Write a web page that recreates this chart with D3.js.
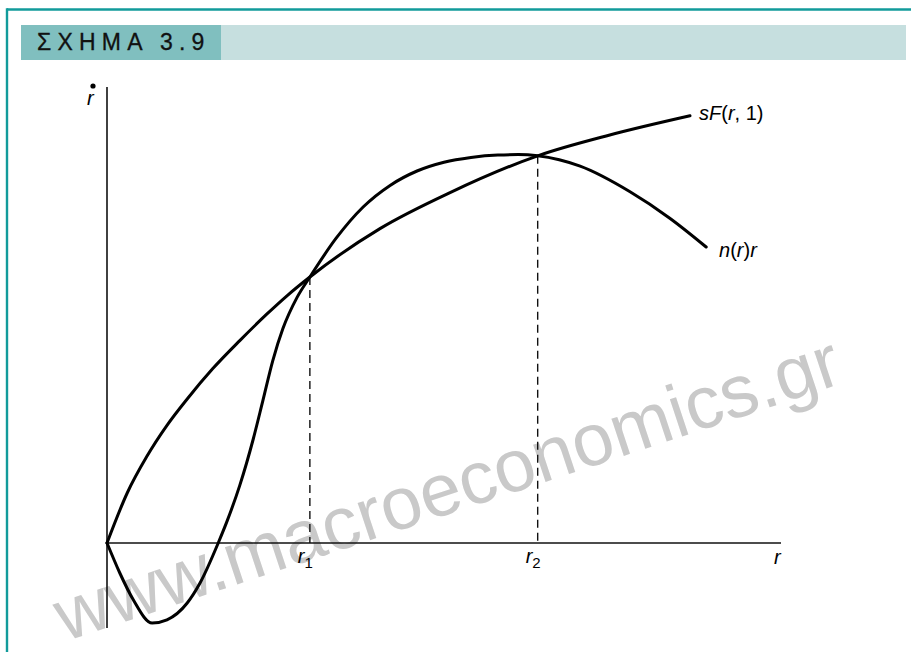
<!DOCTYPE html>
<html>
<head>
<meta charset="utf-8">
<script src="https://cdn.jsdelivr.net/npm/d3@7"></script>
<style>
  body { margin: 0; background: #fff; }
  svg { display: block; }
</style>
</head>
<body>
<div id="chart"></div>
<script>
// figure title
const figureTitle = "ΣΧΗΜΑ 3.9"
const watermark = "www.macroeconomics.gr"

// sF(r, 1) curve
const sfR = [0, 0.30, 0.59, 0.89, 1.19, 1.57, 1.97, 2.37, 2.67, 3.01, 4.05, 5.09, 6.39, 7.46, 8.65]
const sfValues = [0, 0.625, 1.08, 1.47, 1.80, 2.18, 2.53, 2.86, 3.09, 3.325, 3.93, 4.38, 4.84, 5.10, 5.34]

// n(r)r curve
const nrR = [0, 0.19, 0.39, 0.67, 0.89, 1.19, 1.38, 1.65, 1.78, 1.97, 2.17, 2.31, 2.46, 2.61, 2.82, 3.01, 3.40, 3.80, 4.20, 4.60, 5.00, 5.40, 5.80, 6.10, 6.39, 6.71, 7.02, 7.76, 8.35, 8.89]
const nrValues = [0, -0.375, -0.71, -1.0, -0.96, -0.75, -0.5, 0, 0.27, 0.72, 1.30, 1.77, 2.28, 2.68, 3.07, 3.325, 3.81, 4.20, 4.47, 4.65, 4.76, 4.82, 4.85, 4.855, 4.84, 4.79, 4.71, 4.39, 4.06, 3.70]

// the two crossings r1, r2
const steadyR = [3.01, 6.39]
const steadyValues = [3.325, 4.84]
const steadySubs = ["1", "2"]

const width = 911
const height = 652
const font = 'Liberation Sans, Arial, sans-serif'

const svg = d3.select('#chart')
    .append('svg')
    .attr('width', width)
    .attr('height', height)

const x = d3.scaleLinear().domain([0, 10]).range([107, 781])
const y = d3.scaleLinear().domain([-1.2, 5.7]).range([639, 87])

// frame
svg.append('line')
    .attr('x1', 7).attr('x2', width)
    .attr('y1', 9.5).attr('y2', 9.5)
    .attr('stroke', '#129b9b').attr('stroke-width', 2.6)
svg.append('line')
    .attr('x1', 7).attr('x2', 7)
    .attr('y1', 8.2).attr('y2', height)
    .attr('stroke', '#129b9b').attr('stroke-width', 2.4)

// header band
svg.append('rect')
    .attr('x', 221).attr('y', 25).attr('width', 685).attr('height', 35)
    .attr('fill', '#c6dfdf')
svg.append('rect')
    .attr('x', 21).attr('y', 25).attr('width', 200).attr('height', 35)
    .attr('fill', '#80bfbf')
svg.append('text')
    .attr('x', 37).attr('y', 50)
    .attr('font-family', font)
    .attr('font-size', 23)
    .attr('letter-spacing', 6.2)
    .attr('fill', '#111')
    .attr('stroke', '#111')
    .attr('stroke-width', 0.3)
    .text(figureTitle)

// watermark behind everything else
svg.append('text')
    .attr('transform', 'translate(455,512) rotate(-18.4)')
    .attr('text-anchor', 'middle')
    .attr('font-family', font)
    .attr('font-size', 74)
    .attr('fill', '#c9c9c9')
    .text(watermark)

const g = svg.append('g')

// axes
g.append('line')
    .attr('x1', x(0)).attr('x2', x(10))
    .attr('y1', y(0)).attr('y2', y(0))
    .attr('stroke', '#111').attr('stroke-width', 1.6)
g.append('line')
    .attr('x1', x(0)).attr('x2', x(0))
    .attr('y1', y(-1.0625)).attr('y2', y(5.7))
    .attr('stroke', '#111').attr('stroke-width', 1.6)

// dashed guides down from the crossings
g.selectAll('.guide')
    .data(steadyR)
    .enter()
    .append('line')
    .attr('class', 'guide')
    .attr('x1', d => x(d)).attr('x2', d => x(d))
    .attr('y1', (d, i) => y(steadyValues[i])).attr('y2', y(0))
    .attr('stroke', '#111')
    .attr('stroke-width', 1.4)
    .attr('stroke-dasharray', '8,5')

const line = d3.line()
    .x(d => x(d[0]))
    .y(d => y(d[1]))
    .curve(d3.curveMonotoneX)

g.append('path')
    .attr('d', line(d3.zip(sfR, sfValues)))
    .attr('fill', 'none')
    .attr('stroke', '#000')
    .attr('stroke-width', 3)
    .attr('stroke-linecap', 'round')

g.append('path')
    .attr('d', line(d3.zip(nrR, nrValues)))
    .attr('fill', 'none')
    .attr('stroke', '#000')
    .attr('stroke-width', 3)
    .attr('stroke-linecap', 'round')

// labels
const sfLabel = g.append('text')
    .attr('x', 699).attr('y', 120)
    .attr('font-family', font).attr('font-size', 20)
sfLabel.append('tspan').attr('font-style', 'italic').text('sF')
sfLabel.append('tspan').text('(')
sfLabel.append('tspan').attr('font-style', 'italic').text('r')
sfLabel.append('tspan').text(', 1)')

const nLabel = g.append('text')
    .attr('x', 719).attr('y', 257)
    .attr('font-family', font).attr('font-size', 20)
nLabel.append('tspan').attr('font-style', 'italic').text('n')
nLabel.append('tspan').text('(')
nLabel.append('tspan').attr('font-style', 'italic').text('r')
nLabel.append('tspan').text(')')
nLabel.append('tspan').attr('font-style', 'italic').text('r')

// steady-state labels r1, r2
g.selectAll('.sslabel')
    .data(steadyR)
    .enter()
    .append('text')
    .attr('class', 'sslabel')
    .attr('x', d => x(d) - 12)
    .attr('y', 563)
    .attr('font-family', font).attr('font-size', 20)
    .each(function (d, i) {
        const t = d3.select(this)
        t.append('tspan').attr('font-style', 'italic').text('r')
        t.append('tspan').attr('dy', 5).attr('font-size', 15).text(steadySubs[i])
    })

// axis labels
g.append('text')
    .attr('x', 774).attr('y', 564)
    .attr('font-family', font).attr('font-size', 20)
    .attr('font-style', 'italic')
    .text('r')

g.append('text')
    .attr('x', 87).attr('y', 105)
    .attr('font-family', font).attr('font-size', 20)
    .attr('font-style', 'italic')
    .text('r')
g.append('circle')
    .attr('cx', 93).attr('cy', 86).attr('r', 2.6)
    .attr('fill', '#000')
</script>
</body>
</html>
